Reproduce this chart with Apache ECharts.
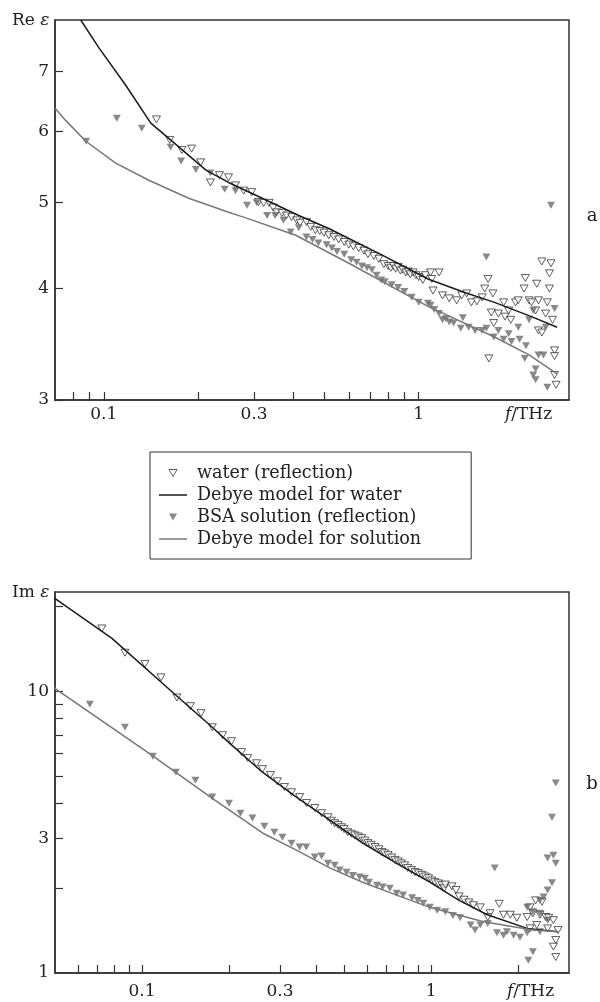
<!DOCTYPE html>
<html><head><meta charset="utf-8">
<script src="https://cdn.jsdelivr.net/npm/echarts@6/dist/echarts.min.js"></script>
<style>html,body{margin:0;padding:0;background:#fff}#c{width:600px;height:1002px}</style>
</head><body><div id="c"></div><script>
// ---- Panel a: Re eps ----
var reXTicks = [0.08,0.09,0.1,0.2,0.3,0.4,0.5,0.6,0.7,0.8,0.9,1];
var reXLabels = [0.1,0.3,1];
var reYTicks = [3,4,5,6,7];
var reYLabels = [3,4,5,6,7];
var reWater = [[0.147,6.19],[0.162,5.87],[0.177,5.72],[0.190,5.74],[0.203,5.54],[0.218,5.26],[0.233,5.36],[0.249,5.33],[0.262,5.22],[0.278,5.15],[0.295,5.13],[0.31,5.00],[0.322,4.99],[0.335,4.99],[0.345,4.93],[0.354,4.87],[0.368,4.86],[0.38,4.83],[0.395,4.81],[0.41,4.77],[0.42,4.74],[0.44,4.75],[0.454,4.69],[0.47,4.65],[0.485,4.64],[0.50,4.62],[0.518,4.59],[0.538,4.57],[0.557,4.54],[0.58,4.51],[0.60,4.48],[0.62,4.46],[0.645,4.44],[0.67,4.41],[0.69,4.37],[0.72,4.35],[0.747,4.32],[0.775,4.26],[0.80,4.24],[0.815,4.22],[0.83,4.24],[0.845,4.21],[0.86,4.23],[0.875,4.19],[0.89,4.20],[0.91,4.17],[0.925,4.18],[0.94,4.15],[0.96,4.17],[0.98,4.14],[1.0,4.12],[1.03,4.09],[1.05,4.14],
 [1.09,4.17],[1.16,4.17],[1.10,4.10],[1.11,3.98],[1.19,3.93],[1.25,3.90],[1.32,3.88],[1.37,3.93],[1.42,3.95],[1.47,3.86],[1.53,3.87],[1.59,3.91],[1.62,4.00],[1.66,4.10],[1.72,3.95],[1.67,3.34],[1.70,3.76],[1.73,3.66],[1.79,3.75],[1.86,3.86],[1.88,3.72],[1.93,3.78],[1.96,3.69],[2.03,3.86],[2.07,3.88],[2.16,4.00],[2.18,4.11],[2.24,3.88],[2.28,3.86],[2.37,4.05],[2.35,3.78],[2.40,3.88],[2.46,4.29],[2.63,4.27],[2.60,4.16],[2.60,4.00],[2.56,3.86],[2.53,3.75],[2.66,3.69],[2.40,3.59],[2.46,3.57],[2.70,3.41],[2.70,3.36],[2.70,3.20],[2.73,3.12]];
var reBSA = [[0.0879,5.85],[0.110,6.21],[0.132,6.05],[0.163,5.76],[0.176,5.56],[0.196,5.44],[0.218,5.39],[0.242,5.17],[0.262,5.15],[0.285,4.96],[0.306,4.99],[0.33,4.83],[0.35,4.83],[0.372,4.77],[0.392,4.63],[0.416,4.68],[0.44,4.57],[0.46,4.54],[0.48,4.50],[0.51,4.48],[0.53,4.44],[0.55,4.40],[0.58,4.37],[0.61,4.31],[0.635,4.28],[0.66,4.24],[0.685,4.22],[0.71,4.20],[0.735,4.14],[0.76,4.09],[0.78,4.07],[0.82,4.04],[0.86,4.01],[0.90,3.97],[0.95,3.91],[1.0,3.86],[1.07,3.85],[1.16,3.75],[1.22,3.70],
 [1.64,4.34],[1.09,3.83],[1.12,3.79],[1.19,3.69],[1.25,3.67],[1.29,3.66],[1.36,3.61],[1.38,3.71],[1.44,3.62],[1.51,3.59],[1.59,3.59],[1.64,3.61],[1.73,3.53],[1.79,3.59],[1.86,3.51],[1.93,3.56],[1.97,3.49],[2.07,3.62],[2.09,3.51],[2.19,3.45],[2.24,3.69],[2.17,3.34],[2.31,3.78],[2.40,3.37],[2.49,3.37],[2.53,3.62],[2.70,3.80],[2.35,3.25],[2.31,3.20],[2.35,3.16],[2.56,3.10],[2.63,4.96]];
var reDebyeWater = [[0.0845,8.0],[0.0964,7.45],[0.1174,6.76],[0.141,6.13],[0.164,5.86],[0.211,5.43],[0.249,5.26],[0.326,5.03],[0.416,4.83],[0.518,4.67],[0.747,4.38],[1.07,4.10],[1.4,3.96],[1.74,3.86],[2.28,3.72],[2.75,3.62]];
var reDebyeSol = [[0.07,6.37],[0.0758,6.17],[0.0877,5.85],[0.1091,5.53],[0.139,5.29],[0.186,5.05],[0.249,4.87],[0.278,4.81],[0.407,4.59],[0.6,4.27],[1.07,3.82],[1.74,3.53],[2.24,3.37],[2.75,3.21]];

// ---- Panel b: Im eps ----
var imXTicks = [0.06,0.07,0.08,0.09,0.1,0.2,0.3,0.4,0.5,0.6,0.7,0.8,0.9,1,2];
var imXLabels = [0.1,0.3,1];
var imYTicks = [2,3,4,5,6,7,8,9,10,20];
var imYLabels = [1,3,10];
var imWater = [[0.0726,16.7],[0.0873,13.7],[0.1024,12.5],[0.1163,11.2],[0.132,9.5],[0.147,8.85],[0.160,8.36],[0.175,7.45],[0.190,6.98],[0.204,6.65],[0.221,6.08],[0.232,5.79],[0.249,5.55],[0.261,5.29],[0.278,5.04],[0.294,4.79],[0.311,4.57],[0.329,4.38],[0.351,4.21],[0.371,4.01],[0.396,3.85],[0.418,3.69],[0.44,3.57],[0.452,3.47],[0.464,3.40],[0.477,3.35],[0.49,3.29],[0.50,3.24],[0.515,3.16],[0.53,3.12],[0.544,3.08],[0.56,3.05],[0.575,3.01],[0.59,2.95],[0.605,2.89],[0.62,2.85],[0.64,2.80],[0.66,2.75],[0.676,2.69],[0.69,2.66],[0.71,2.62],[0.73,2.57],[0.75,2.52],[0.77,2.49],[0.79,2.45],[0.81,2.41],[0.83,2.36],[0.855,2.32],[0.88,2.28],[0.905,2.26],[0.93,2.23],[0.955,2.20],[0.98,2.17],[1.005,2.13],[1.03,2.10],[1.06,2.08],[1.09,2.05],[1.11,2.0],[1.12,2.06],[1.18,2.03],[1.22,1.97],[1.25,1.87],[1.3,1.82],[1.35,1.78],[1.40,1.74],[1.48,1.71],
 [1.60,1.63],[1.57,1.58],[1.72,1.76],[1.78,1.61],[1.88,1.61],[1.98,1.57],[2.15,1.58],[2.20,1.71],[2.30,1.81],[2.42,1.79],[2.25,1.63],[2.38,1.61],[2.49,1.58],[2.55,1.57],[2.65,1.54],[2.32,1.48],[2.53,1.44],[2.75,1.42],[2.70,1.31],[2.65,1.24],[2.70,1.14],[2.20,1.44]];
var imBSA = [[0.066,9.0],[0.0873,7.45],[0.109,5.88],[0.131,5.16],[0.153,4.83],[0.175,4.21],[0.2,4.0],[0.219,3.69],[0.241,3.55],[0.265,3.32],[0.287,3.16],[0.306,3.03],[0.329,2.89],[0.351,2.80],[0.37,2.80],[0.396,2.58],[0.418,2.60],[0.44,2.45],[0.464,2.41],[0.483,2.32],[0.51,2.28],[0.536,2.22],[0.566,2.19],[0.59,2.17],[0.61,2.10],[0.65,2.05],[0.68,2.02],[0.72,2.0],[0.76,1.92],[0.80,1.89],[0.86,1.85],[0.90,1.81],[0.94,1.77],[0.99,1.71],[1.05,1.67],[1.12,1.65],[1.19,1.60],[1.26,1.57],
 [1.37,1.48],[1.48,1.48],[1.57,1.50],[1.42,1.42],[1.69,1.39],[1.78,1.36],[1.93,1.36],[2.03,1.34],[1.83,1.40],[2.17,1.11],[2.25,1.19],[1.66,2.36],[2.15,1.71],[2.25,1.65],[2.38,1.81],[2.45,1.86],[2.53,1.97],[2.62,2.09],[2.53,2.56],[2.65,2.62],[2.70,2.45],[2.62,3.57],[2.70,4.72],[2.38,1.63],[2.53,1.54],[2.15,1.39],[2.38,1.40]];
var imDebyeWater = [[0.0495,21.5],[0.0787,15.4],[0.131,9.68],[0.175,7.45],[0.2003,6.56],[0.261,5.16],[0.342,4.21],[0.446,3.49],[0.58,2.89],[0.76,2.45],[0.99,2.10],[1.25,1.81],[1.565,1.61],[2.15,1.44],[2.75,1.40]];
var imDebyeSol = [[0.0495,10.3],[0.108,5.93],[0.175,4.17],[0.2,3.79],[0.261,3.14],[0.342,2.73],[0.446,2.36],[0.58,2.10],[0.76,1.89],[0.99,1.71],[1.52,1.52],[2.25,1.42],[2.75,1.40]];

var legendNames = ['water (reflection)','Debye model for water','BSA solution (reflection)','Debye model for solution'];

var TRI = 'path://M0,0L10,0L5,8.7Z';
var BAR = 'path://M0,0L28,0L28,1.5L0,1.5Z';
var FONT = 'DejaVu Serif';
var INK = '#222';
var DARK = '#1a1a1a', GREY = '#777';
function fmt(v){ return String(+v.toPrecision(3)); }
function xAxisCfg(grid, min, max, ticks, labels, margin){
  return {type:'log', logBase:10, gridIndex:grid, min:min, max:max,
    axisLine:{lineStyle:{color:'#333', width:1.5}},
    axisTick:{inside:true, length:8, lineStyle:{color:'#333', width:1.2}, customValues:ticks},
    axisLabel:{customValues:labels, formatter:fmt, fontFamily:FONT, fontSize:17, color:INK, margin:margin},
    splitLine:{show:false}, minorTick:{show:false}};
}
function yAxisCfg(grid, min, max, ticks, labels){
  return {type:'log', logBase:10, gridIndex:grid, min:min, max:max,
    axisLine:{lineStyle:{color:'#333', width:1.5}},
    axisTick:{inside:true, length:8, lineStyle:{color:'#333', width:1.2}, customValues:ticks},
    axisLabel:{customValues:labels, formatter:fmt, fontFamily:FONT, fontSize:17, color:INK, margin:6},
    splitLine:{show:false}, minorTick:{show:false}};
}
function scat(name, data, gi, open){
  return {type:'scatter', name:name, xAxisIndex:gi, yAxisIndex:gi, data:data, symbol:TRI, symbolSize:[8,7],
    itemStyle: open ? {color:'#fff', borderColor:'#222', borderWidth:0.9} : {color:'#6b6b6b'}, z:3, silent:true};
}
function line(name, data, gi, color){
  return {type:'line', name:name, xAxisIndex:gi, yAxisIndex:gi, data:data, symbol:'none', smooth:false,
    lineStyle:{color:color, width:1.5}, itemStyle:{color:color}, z:4, silent:true};
}
function txt(x, y, s, size){
  return {type:'text', x:x, y:y, style:{text:s, rich:{i:{fontStyle:'italic', fontFamily:FONT, fontSize:size, fill:INK}}, fontFamily:FONT, fontSize:size, fill:INK, verticalAlign:'middle'}};
}
var chart = echarts.init(document.getElementById('c'), null, {renderer:'canvas'});
chart.setOption({
  animation:false,
  backgroundColor:'#fff',
  grid:[
    {left:55, top:20, width:514, height:380, show:true, borderColor:'#333', borderWidth:1.5, backgroundColor:'transparent'},
    {left:55, top:592, width:514, height:381, show:true, borderColor:'#333', borderWidth:1.5, backgroundColor:'transparent'}
  ],
  xAxis:[ xAxisCfg(0, 0.07, 3, reXTicks, reXLabels, 6), xAxisCfg(1, 0.05, 3, imXTicks, imXLabels, 10) ],
  yAxis:[ yAxisCfg(0, 3, 8, reYTicks, reYLabels), yAxisCfg(1, 1, 22.5, imYTicks, imYLabels) ],
  legend:{orient:'vertical', left:150, top:452, padding:[11,50,10,9], itemGap:2, itemWidth:28, itemHeight:7,
    borderColor:'#333', borderWidth:1, selectedMode:false,
    textStyle:{fontFamily:FONT, fontSize:17.6, color:INK, lineHeight:20, padding:[0,0,0,5]},
    data:[
      {name:legendNames[0], icon:TRI, itemStyle:{color:'#fff', borderColor:'#222', borderWidth:0.9}},
      {name:legendNames[1], icon:BAR, itemStyle:{color:DARK, borderWidth:0}},
      {name:legendNames[2], icon:TRI, itemStyle:{color:'#6b6b6b', borderWidth:0}},
      {name:legendNames[3], icon:BAR, itemStyle:{color:GREY, borderWidth:0}}
    ]},
  graphic:[
    txt(12, 21, 'Re {i|ε}', 17),
    txt(12, 593, 'Im {i|ε}', 17),
    txt(505, 415, '{i|f}/THz', 17),
    txt(507, 992, '{i|f}/THz', 17),
    {type:'text', x:592, y:216, style:{text:'a', fontFamily:FONT, fontSize:18, fill:INK, align:'center', verticalAlign:'middle'}},
    {type:'text', x:592, y:784, style:{text:'b', fontFamily:FONT, fontSize:18, fill:INK, align:'center', verticalAlign:'middle'}}
  ],
  series:[
    scat(legendNames[0], reWater, 0, true),
    scat(legendNames[2], reBSA, 0, false),
    line(legendNames[1], reDebyeWater, 0, DARK),
    line(legendNames[3], reDebyeSol, 0, GREY),
    scat(legendNames[0], imWater, 1, true),
    scat(legendNames[2], imBSA, 1, false),
    line(legendNames[1], imDebyeWater, 1, DARK),
    line(legendNames[3], imDebyeSol, 1, GREY)
  ]
});
</script></body></html>
